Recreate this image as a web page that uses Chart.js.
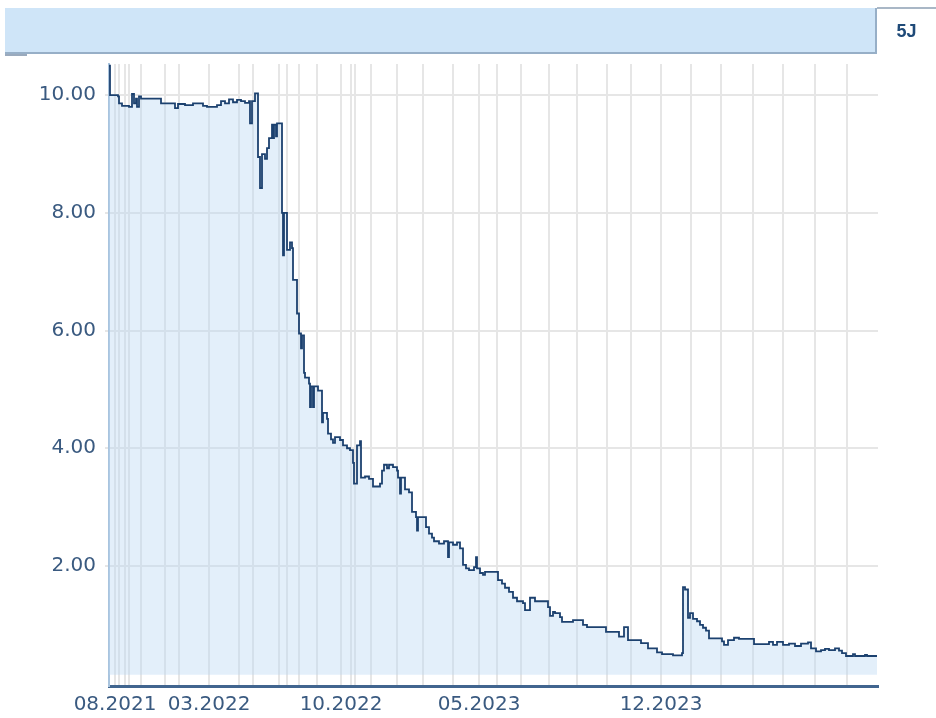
<!DOCTYPE html>
<html>
<head>
<meta charset="utf-8">
<script src="https://cdn.jsdelivr.net/npm/chart.js@4"></script>
<style>
  html, body { margin: 0; padding: 0; background: #fff; }
  #wrap { position: relative; width: 936px; height: 718px; overflow: hidden; }
  #chart { position: absolute; left: 0; top: 0; }
  #header {
    position: absolute; left: 5px; top: 8px; width: 870px; height: 44px;
    background: #cfe5f8; border-bottom: 2px solid #97afc7; border-right: 2px solid #97afc7;
  }
  #stub { position: absolute; left: 5px; top: 54px; width: 22px; height: 2px; background: #9aaabd; }
  #tab {
    position: absolute; left: 877px; top: 7px; width: 59px; height: 45px;
    border-top: 2px solid #a9b7c6;
    font: bold 18px "Liberation Sans", Arial, sans-serif; color: #1f4a78;
    line-height: 45px; text-align: center;
  }
</style>
</head>
<body>
<div id="wrap">
  <canvas id="chart" width="936" height="718"></canvas>
  <div id="header"></div>
  <div id="stub"></div>
  <div id="tab">5J</div>
</div>
<script>
// Months on the axis and how many observations fall in each one
const months = ['07.2021', '08.2021', '09.2021', '10.2021', '11.2021', '12.2021',
  '01.2022', '02.2022', '03.2022', '04.2022', '05.2022', '06.2022', '07.2022', '08.2022',
  '09.2022', '10.2022', '11.2022', '12.2022', '01.2023', '02.2023', '03.2023', '04.2023',
  '05.2023', '06.2023', '07.2023', '08.2023', '09.2023', '10.2023', '11.2023', '12.2023',
  '01.2024', '02.2024', '03.2024', '04.2024', '05.2024', '06.2024'];
const monthCounts = [3, 2, 3, 2, 6, 12, 7, 15, 15, 7, 13, 4, 6, 9, 12, 5, 2, 8,
  13, 13, 15, 13, 9, 12, 14, 14, 15, 12, 15, 15, 15, 16, 15, 16, 16, 15];
const labelMonths = ['08.2021', '03.2022', '10.2022', '05.2023', '12.2023'];
const yTicks = [2, 4, 6, 8, 10];

// price changes: observation index where a price starts, and the price
const obsIndex = [0, 0.5, 4.5, 5, 6.5, 10, 11.5, 12.5, 13.5, 14, 15, 16, 26, 33, 34.5, 38,
  42, 47, 49, 54, 56, 58, 60, 62, 64, 66, 68, 70, 70.5, 71.5, 73, 74.5, 75.5, 76.5, 78,
  79, 80, 81.5, 82, 82.5, 83.5, 84, 86.5, 87, 87.5, 89, 90.5, 91.5, 92, 94, 95, 96, 96.5,
  97.5, 98, 100, 100.5, 101, 102, 102.5, 104.5, 106.5, 107, 109, 109.5, 111, 112, 113,
  115.5, 117, 119, 120.5, 122, 122.5, 124, 125.5, 126, 128, 130, 132, 135.5, 136.5, 137.5,
  139, 140, 142, 144, 144.5, 145.5, 146, 148, 150, 151.5, 153.5, 154, 154.5, 158.5, 160,
  161.5, 162.5, 165, 167.5, 169.5, 170, 172, 174, 175.5, 177, 178.5, 180, 182.5, 183.5,
  184, 185.5, 187, 188, 194.5, 196.5, 198, 200, 202, 204, 207, 208, 210.5, 213, 219.5,
  220.5, 222, 223, 225.5, 226.5, 232, 237, 239, 248.5, 255, 257.5, 259.5, 266, 269.5,
  274, 276.5, 282, 286.5, 287, 288, 289.5, 290.5, 292, 294, 295.5, 297, 298.5, 300,
  306.5, 307.5, 309.5, 312.5, 315, 322.5, 330, 332, 334, 337, 340, 343, 346, 349.5, 351,
  353.5, 356, 358, 360, 363, 365, 366.5, 368.5, 372, 373, 378, 379, 384];
const price = [10.50, 10.00, 9.98, 9.86, 9.82, 9.80, 10.02, 9.86, 9.94, 9.80, 9.98, 9.94,
  9.86, 9.78, 9.85, 9.83, 9.86, 9.82, 9.80, 9.83, 9.90, 9.86, 9.93, 9.88, 9.92, 9.90,
  9.87, 9.90, 9.52, 9.90, 10.03, 8.95, 8.42, 9.00, 8.92, 9.10, 9.27, 9.50, 9.27, 9.50,
  9.30, 9.52, 8.00, 7.28, 8.00, 7.37, 7.50, 7.40, 6.86, 6.29, 5.95, 5.70, 5.92, 5.28,
  5.20, 5.10, 4.70, 5.05, 4.70, 5.05, 4.98, 4.44, 4.60, 4.50, 4.25, 4.15, 4.09, 4.19,
  4.14, 4.05, 4.00, 3.97, 3.75, 3.40, 4.05, 4.12, 3.50, 3.52, 3.48, 3.35, 3.40, 3.62,
  3.72, 3.66, 3.72, 3.68, 3.62, 3.50, 3.23, 3.50, 3.30, 3.25, 2.92, 2.83, 2.60, 2.83,
  2.66, 2.55, 2.48, 2.42, 2.38, 2.42, 2.15, 2.40, 2.36, 2.40, 2.30, 2.02, 1.96, 1.93,
  1.98, 2.15, 1.96, 1.88, 1.85, 1.90, 1.76, 1.70, 1.63, 1.56, 1.46, 1.40, 1.37, 1.25,
  1.46, 1.40, 1.30, 1.15, 1.22, 1.20, 1.13, 1.05, 1.08, 1.00, 0.96, 0.88, 0.80, 0.96,
  0.74, 0.69, 0.60, 0.53, 0.50, 0.48, 0.52, 1.64, 1.60, 1.12, 1.20, 1.10, 1.06, 1.00,
  0.95, 0.90, 0.77, 0.72, 0.66, 0.74, 0.78, 0.76, 0.67, 0.71, 0.66, 0.71, 0.66, 0.68,
  0.64, 0.68, 0.70, 0.60, 0.55, 0.57, 0.59, 0.57, 0.60, 0.56, 0.52, 0.47, 0.50, 0.47,
  0.49, 0.47, 0.47];

// index of the first observation of each month
const monthStart = [];
let acc = 0;
monthCounts.forEach(n => { monthStart.push(acc); acc += n; });
const gridStarts = monthStart.slice(1);
const tickLabel = {};
months.forEach((m, i) => { if (labelMonths.includes(m)) tickLabel[monthStart[i]] = m; });

const points = obsIndex.map((x, i) => ({ x: x, y: price[i] }));

const tickFont = { family: 'DejaVu Sans', size: 20 };
const tickColor = '#3a5a80';
const gridColor = '#e6e6e6';

new Chart(document.getElementById('chart').getContext('2d'), {
  type: 'line',
  data: {
    datasets: [{
      data: points,
      stepped: true,
      borderColor: '#1c416f',
      borderWidth: 1.8,
      pointRadius: 0,
      fill: { value: 0.15 },
      backgroundColor: 'rgba(185, 215, 242, 0.4)'
    }]
  },
  options: {
    responsive: false,
    animation: false,
    layout: { padding: { top: 64, right: 58, left: 0, bottom: 0 } },
    plugins: { legend: { display: false }, tooltip: { enabled: false } },
    scales: {
      x: {
        type: 'linear',
        min: 0,
        max: 384.5,
        afterBuildTicks: s => { s.ticks = gridStarts.map(v => ({ value: v })); },
        afterFit: s => { s.height = 32; },
        ticks: {
          autoSkip: false,
          maxRotation: 0,
          padding: 7,
          color: tickColor,
          font: tickFont,
          callback: v => tickLabel[v] || ''
        },
        grid: { color: gridColor, lineWidth: 2, drawTicks: false },
        border: { color: '#41658f', width: 3 }
      },
      y: {
        min: -0.04,
        max: 10.53,
        afterBuildTicks: s => { s.ticks = yTicks.map(v => ({ value: v })); },
        afterFit: s => { s.width = 109; },
        ticks: {
          padding: 9,
          color: tickColor,
          font: tickFont,
          callback: v => v.toFixed(2)
        },
        grid: { color: gridColor, lineWidth: 2, tickLength: 4 },
        border: { color: '#a9c4de', width: 2 }
      }
    }
  }
});
</script>
</body>
</html>
